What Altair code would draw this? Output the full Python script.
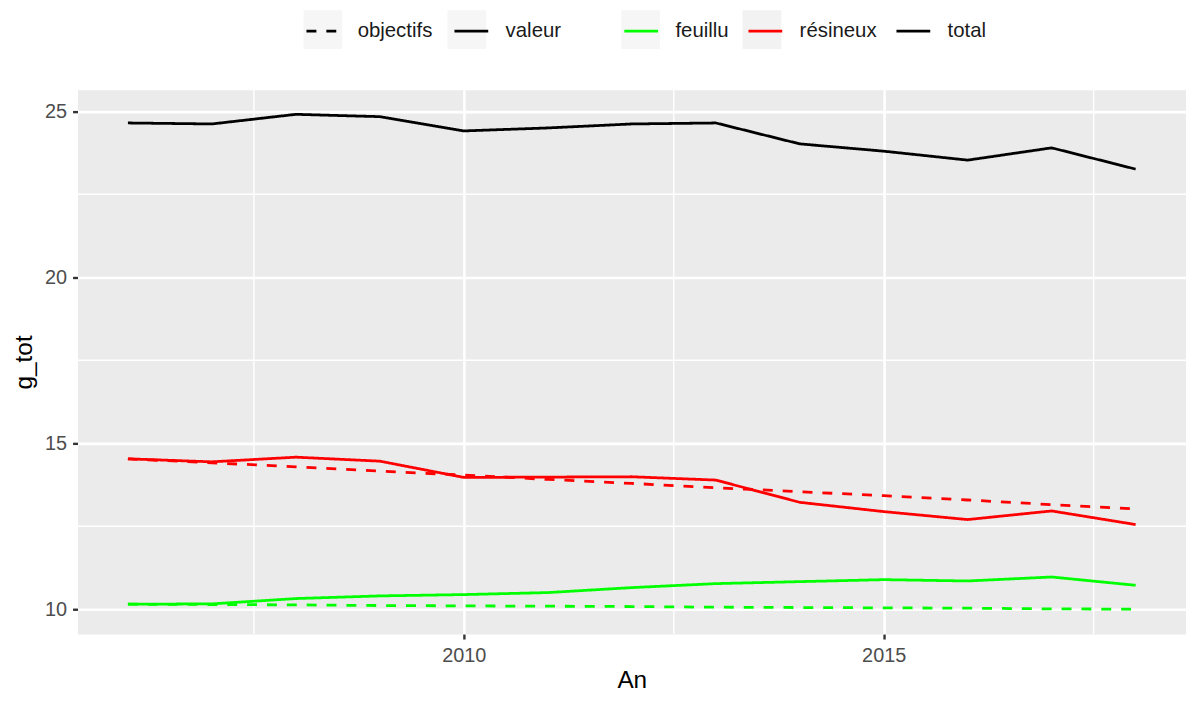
import altair as alt
import pandas as pd

# ---- data ----
years = [2006, 2007, 2008, 2009, 2010, 2011, 2012, 2013, 2014, 2015, 2016, 2017, 2018]
total_valeur = [24.65, 24.62, 24.91, 24.84, 24.41, 24.50, 24.62, 24.65, 24.02, 23.80, 23.53, 23.90, 23.26]
resineux_valeur = [14.53, 14.44, 14.58, 14.46, 13.97, 13.98, 13.99, 13.89, 13.22, 12.94, 12.70, 12.96, 12.55]
resineux_objectifs = [14.53, 14.41, 14.29, 14.16, 14.04, 13.91, 13.79, 13.66, 13.54, 13.42, 13.29, 13.15, 13.02]
feuillu_valeur = [10.15, 10.16, 10.32, 10.40, 10.44, 10.50, 10.65, 10.77, 10.83, 10.89, 10.85, 10.97, 10.72]
feuillu_objectifs = [10.15, 10.14, 10.13, 10.11, 10.10, 10.09, 10.08, 10.06, 10.05, 10.04, 10.03, 10.01, 10.00]

type_labels = ["objectifs", "valeur"]
serie_labels = ["feuillu", "résineux", "total"]
serie_colors = ["#00FF00", "#FF0000", "#000000"]

x_ticks = [2010, 2015]
y_ticks = [10, 15, 20, 25]
x_minor = [2007.5, 2012.5, 2017.5]
y_minor = [12.5, 17.5, 22.5]

rows = []
for serie, typ, vals in [
    ("feuillu", "objectifs", feuillu_objectifs),
    ("feuillu", "valeur", feuillu_valeur),
    ("résineux", "objectifs", resineux_objectifs),
    ("résineux", "valeur", resineux_valeur),
    ("total", "valeur", total_valeur),
]:
    for yr, v in zip(years, vals):
        rows.append({"An": yr, "g_tot": v, "serie": serie, "type": typ})
df = pd.DataFrame(rows)

FONT = "Liberation Sans"
LW = 2.8
x_scale = alt.Scale(domain=[2005.4, 2018.6], nice=False, zero=False)
y_scale = alt.Scale(domain=[9.25, 25.65], nice=False, zero=False)

x_axis = alt.Axis(values=x_ticks, format="d", title="An", grid=True,
                  gridColor="white", gridWidth=2.6, domain=False,
                  tickSize=5, tickWidth=2.4, tickColor="#333333",
                  labelFont=FONT, labelFontSize=20, labelColor="#4D4D4D",
                  labelPadding=7, titleFont=FONT, titleFontSize=24.5,
                  titleFontWeight="normal", titleColor="black", titlePadding=3)
y_axis = alt.Axis(values=y_ticks, title="g_tot", grid=True,
                  gridColor="white", gridWidth=2.6, domain=False,
                  tickSize=5, tickWidth=2.4, tickColor="#333333",
                  labelFont=FONT, labelFontSize=20, labelColor="#4D4D4D",
                  labelPadding=6, titleFont=FONT, titleFontSize=24.5,
                  titleFontWeight="normal", titleColor="black", titlePadding=8)

X = alt.X("An:Q", scale=x_scale, axis=x_axis)
Y = alt.Y("g_tot:Q", scale=y_scale, axis=y_axis)

minor_v = alt.Chart(pd.DataFrame({"An": x_minor})).mark_rule(color="white", strokeWidth=1.4).encode(x=X)
minor_h = alt.Chart(pd.DataFrame({"g_tot": y_minor})).mark_rule(color="white", strokeWidth=1.4).encode(y=Y)


# ---- grey key backgrounds (ggplot legend keys): one single-entry legend per key ----
def key_legend(lx):
    return alt.Legend(title=None, orient="none", legendX=lx, legendY=-80,
                      symbolType="square", symbolSize=1521,
                      symbolFillColor="#F2F2F2", symbolStrokeWidth=0,
                      labelExpr="''", labelFontSize=1, labelOffset=0,
                      padding=0, zindex=0)


keys = alt.Chart(df).mark_point(filled=True, color="#F2F2F2").encode(
    x=X, y=Y,
    shape=alt.Shape("k1:N", scale=alt.Scale(domain=["k_objectifs"], range=["square"]),
                    legend=key_legend(227.5)),
    fill=alt.Fill("k2:N", scale=alt.Scale(domain=["k_valeur"], range=["#F2F2F2"]),
                  legend=key_legend(372.5)),
    size=alt.Size("k3:N", scale=alt.Scale(domain=["k_feuillu"], range=[1521, 1521]),
                  legend=key_legend(547.5)),
    opacity=alt.Opacity("k4:N", scale=alt.Scale(domain=["k_resineux"], range=[1, 1]),
                        legend=key_legend(669.5)),
    fillOpacity=alt.FillOpacity("k5:N", scale=alt.Scale(domain=["k_total"], range=[1, 1]),
                                legend=key_legend(815.5)),
).transform_calculate(
    k1="'k_objectifs'", k2="'k_valeur'", k3="'k_feuillu'", k4="'k_resineux'", k5="'k_total'"
).transform_filter("datum.An < 0")

lines = alt.Chart(df).mark_line(strokeWidth=LW).encode(
    x=X, y=Y,
    color=alt.Color("serie:N",
                    scale=alt.Scale(domain=serie_labels, range=serie_colors),
                    legend=alt.Legend(title=None, orient="none", legendX=549, legendY=-77.5,
                                      direction="horizontal", columns=3,
                                      symbolType="stroke", symbolSize=1156,
                                      symbolStrokeWidth=LW,
                                      labelFont=FONT, labelFontSize=20.5, labelColor="#1A1A1A",
                                      labelOffset=16, columnPadding=13, padding=0, zindex=2)),
    strokeDash=alt.StrokeDash("type:N",
                              scale=alt.Scale(domain=type_labels, range=[[10, 10], [1, 0]]),
                              legend=alt.Legend(title=None, orient="none", legendX=229, legendY=-77.5,
                                                direction="horizontal", columns=2,
                                                symbolType="stroke", symbolSize=1156,
                                                symbolStrokeWidth=LW, symbolStrokeColor="black",
                                                labelFont=FONT, labelFontSize=20.5, labelColor="#1A1A1A",
                                                labelOffset=16, columnPadding=15, padding=0, zindex=2)),
)

chart = alt.layer(minor_v, minor_h, keys, lines).properties(
    width=1116, height=548,
    padding={"left": 70, "top": 80, "right": 0, "bottom": 57},
    autosize=alt.AutoSizeParams(type="none"),
).configure_view(fill="#EBEBEB", stroke="transparent")

chart.save("out.html", embed_options={"renderer": "svg", "actions": False})
